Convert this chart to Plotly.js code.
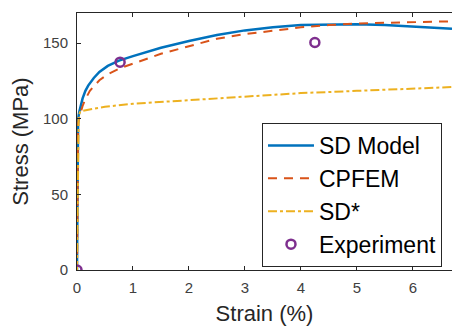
<!DOCTYPE html>
<html>
<head>
<meta charset="utf-8">
<script src="https://cdn.plot.ly/plotly-3.0.1.min.js"></script>
<style>html,body{margin:0;padding:0;background:#fff;}#chart{width:452px;height:329px;}</style>
</head>
<body>
<div id="chart"></div>
<script>
// Strain (%) / Stress (MPa)
const sdStrain = [0, 0.01, 0.02, 0.04, 0.07, 0.1, 0.15, 0.2, 0.3, 0.4, 0.55, 0.75, 1, 1.25, 1.5, 2, 2.5, 3, 3.5, 4, 4.5, 5, 5.5, 6, 6.5, 6.7];
const sdStress = [0, 95, 100, 104.5, 109.5, 113.5, 118.5, 122, 127, 131, 135, 138.5, 141.5, 144.5, 147, 151.5, 155.5, 158.5, 160.5, 162, 162.5, 162.5, 162, 161, 160, 159.5];

const cpStrain = [0, 0.02, 0.04, 0.07, 0.1, 0.15, 0.23, 0.3, 0.4, 0.55, 0.77, 1, 1.25, 1.5, 2, 2.5, 3, 3.5, 4, 4.5, 5, 5.5, 6, 6.7];
const cpStress = [0, 97, 101, 105, 108.5, 113, 118.5, 121.5, 125.5, 129.5, 133.5, 136.5, 140, 143, 148, 153, 156, 158.5, 160.5, 162, 163, 163.5, 164, 164.5];

const sdsStrain = [0, 0.03, 0.06, 0.2, 0.5, 1, 2, 3, 4, 5, 6, 6.7];
const sdsStress = [0, 102, 105, 106, 108, 110, 112.5, 115, 117, 118.5, 120, 121];

const expStrain = [0, 0.77, 4.25];
const expStress = [0, 137.5, 150.5];

const xTicks = [0, 1, 2, 3, 4, 5, 6];
const yTicks = [0, 50, 100, 150];

const traces = [
  {x: sdStrain, y: sdStress, name: 'SD Model', mode: 'lines', line: {color: '#0072BD', width: 2.5}},
  {x: cpStrain, y: cpStress, name: 'CPFEM', mode: 'lines', line: {color: '#D95319', width: 2, dash: '9px,7px'}},
  {x: sdsStrain, y: sdsStress, name: 'SD*', mode: 'lines', line: {color: '#EDB120', width: 2, dash: 'dashdot'}},
  {x: expStrain, y: expStress, name: 'Experiment', mode: 'markers', marker: {symbol: 'circle-open', size: 9, color: '#7E2F8E', line: {width: 2.5, color: '#7E2F8E'}}}
];

const axisCommon = {
  showgrid: false, zeroline: false, showline: true, linecolor: '#262626', linewidth: 1,
  ticks: 'inside', ticklen: 4, tickcolor: '#262626',
  tickfont: {family: 'Liberation Sans, Arial, sans-serif', size: 15, color: '#404040'}
};

const layout = {
  width: 452, height: 329,
  margin: {l: 77, r: 0, t: 13, b: 59},
  paper_bgcolor: '#fff', plot_bgcolor: '#fff',
  showlegend: true,
  xaxis: Object.assign({}, axisCommon, {
    range: [0, 6.7], tickvals: xTicks, mirror: 'ticks', ticklabelstandoff: 4,
    title: {text: 'Strain (%)', font: {family: 'Liberation Sans, Arial, sans-serif', size: 22, color: '#262626'}, standoff: 10}
  }),
  yaxis: Object.assign({}, axisCommon, {
    range: [0, 170], tickvals: yTicks, ticklabelstandoff: 5,
    title: {text: 'Stress (MPa)', font: {family: 'Liberation Sans, Arial, sans-serif', size: 22, color: '#262626'}, standoff: 8}
  }),
  legend: {
    x: 0.4933, y: 0.572, xanchor: 'left', yanchor: 'top',
    bgcolor: '#fff', bordercolor: '#262626', borderwidth: 1,
    font: {family: 'Liberation Sans, Arial, sans-serif', size: 23, color: '#000'},
    tracegroupgap: 0, itemwidth: 46
  }
};

Plotly.newPlot('chart', traces, layout, {displayModeBar: false, staticPlot: true});
</script>
</body>
</html>
